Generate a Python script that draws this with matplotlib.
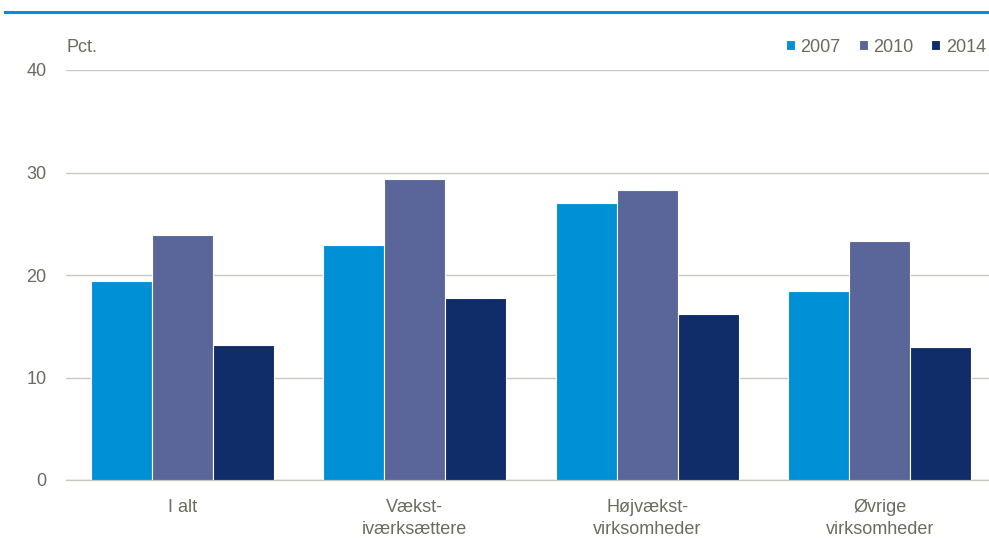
import matplotlib as mpl
import matplotlib.pyplot as plt
import numpy as np

mpl.rcParams.update(
    {
        "font.family": ["Liberation Sans Narrow", "Liberation Sans", "DejaVu Sans"],
        "font.size": 13,
    }
)

categories = ["I alt", "Vækst-\niværksættere", "Højvækst-\nvirksomheder", "Øvrige\nvirksomheder"]
years = ["2007", "2010", "2014"]
values_2007 = [19.4, 22.9, 27.0, 18.4]
values_2010 = [23.9, 29.4, 28.3, 23.3]
values_2014 = [13.2, 17.8, 16.2, 13.0]
yticks = [0, 10, 20, 30, 40]

COLORS = ["#0090D6", "#5A6699", "#112D69"]
TEXT = "#6B6B5E"
GRID = "#C8C8BE"

fig = plt.figure(figsize=(9.89, 5.45), dpi=100)
ax = fig.add_axes([66 / 989, 1 - 480 / 545, 930 / 989, 410 / 545])

x = np.arange(len(categories))
w = 0.263
for i, (vals, yr) in enumerate(zip([values_2007, values_2010, values_2014], years)):
    ax.bar(x + (i - 1) * w, vals, width=w, color=COLORS[i], edgecolor="white",
           linewidth=0.8, label=yr, zorder=3)

ax.set_xlim(-0.5, len(categories) - 0.5)
ax.set_ylim(0, 40)
ax.set_yticks(yticks)
ax.grid(axis="y", color=GRID, linewidth=1.0, zorder=0)
ax.set_xticks(x)
ax.set_xticklabels(categories, color=TEXT, fontsize=13, linespacing=1.35)
ax.tick_params(axis="x", length=0, pad=14)
ax.tick_params(axis="y", length=0, pad=14, labelcolor=TEXT, labelsize=13)
for s in ["top", "right", "left"]:
    ax.spines[s].set_visible(False)
ax.spines["bottom"].set_color(GRID)
ax.spines["bottom"].set_linewidth(1.0)

fig.text(66 / 989, 1 - 47 / 545, "Pct.", color=TEXT, fontsize=13, va="center", ha="left")

leg = fig.legend(*ax.get_legend_handles_labels(), loc="center right",
                 bbox_to_anchor=(986 / 989, 1 - 47 / 545), ncol=3, frameon=False,
                 handlelength=0.5, handleheight=0.5, handletextpad=0.3,
                 columnspacing=1.0, borderaxespad=0, borderpad=0)
for t in leg.get_texts():
    t.set_color(TEXT)

# blue rule at the top
fig.add_artist(plt.Line2D([5 / 989, 1.0], [1 - 12 / 545] * 2, color="#0090D6", linewidth=2.2,
                          transform=fig.transFigure))

fig.savefig("out.png", dpi=100)
